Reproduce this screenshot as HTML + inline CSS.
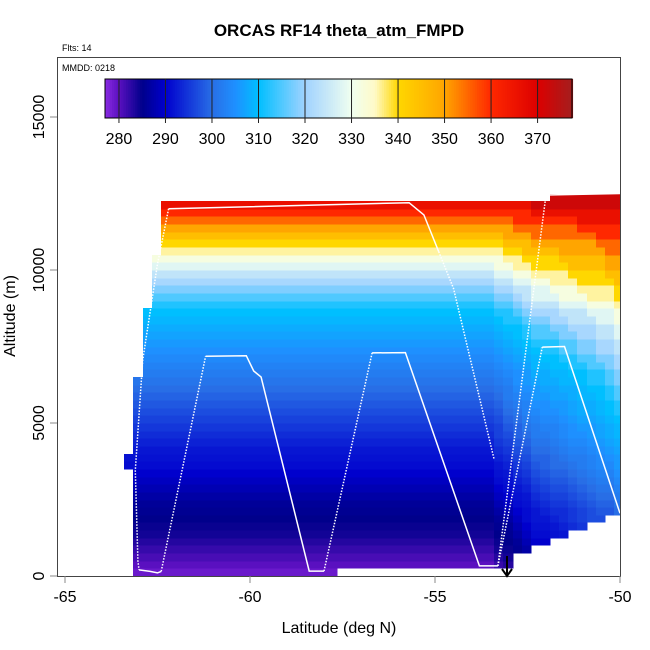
<!DOCTYPE html>
<html><head><meta charset="utf-8"><style>
body{margin:0;background:#fff}
svg{display:block;font-family:"Liberation Sans",sans-serif}
</style></head><body>
<svg id="chart" width="650" height="650" viewBox="0 0 650 650">
<defs><clipPath id="pc"><rect x="57" y="57" width="563.5" height="519.5"/></clipPath></defs>
<g id="cells" shape-rendering="crispEdges" clip-path="url(#pc)"></g>
<g id="tracks" fill="none" stroke="#fff" stroke-width="1.5"></g>
<rect x="57.5" y="57.5" width="563" height="519" fill="none" stroke="#444"/>
<g id="axes"></g>
<g id="cbar"></g>
<text x="339" y="36" text-anchor="middle" font-size="17" font-weight="bold">ORCAS RF14 theta_atm_FMPD</text>
<text x="62" y="51" font-size="9">Flts: 14</text>
<text x="62" y="71" font-size="9">MMDD: 0218</text>
<text x="339" y="633" text-anchor="middle" font-size="16">Latitude (deg N)</text>
<text transform="translate(15,316) rotate(-90)" text-anchor="middle" font-size="16">Altitude (m)</text>
<g stroke="#000" stroke-width="2" fill="none"><line x1="507" y1="556" x2="507" y2="576"/><polyline points="502,569 507,576 512,569"/></g>
</svg>
<script>
const xTicks=[-65,-60,-55,-50];
const yTicks=[0,5000,10000,15000];
const cbTicks=[280,290,300,310,320,330,340,350,360,370];
const cbRange=[277,377.4];
const colLat0=-63.4, colW=0.25, rowH=250;
const colBottom=[3500,0,0,0,0,0,0,0,0,0,0,0,0,0,0,0,0,0,0,0,0,0,0,250,250,250,250,250,250,250,250,250,250,250,250,250,250,250,250,250,250,250,750,750,1000,1000,1250,1250,1500,1500,1750,1750,2000,2000];
const colTop=[4000,6500,8750,10500,12250,12250,12250,12250,12250,12250,12250,12250,12250,12250,12250,12250,12250,12250,12250,12250,12250,12250,12250,12250,12250,12250,12250,12250,12250,12250,12250,12250,12250,12250,12250,12250,12250,12250,12250,12250,12250,12250,12250,12250,12250,12250,12500,12500,12500,12500,12500,12500,12500,12500];
const colFactor=[0,0,0,0,0,0,0,0,0,0,0,0,0,0,0,0,0,0,0,0,0,0,0,0,0,0,0,0,0,0,0,0,0,0,0,0,0,0,0,0,0.1,0.2,0.3,0.4,0.5,0.55,0.6,0.65,0.7,0.75,0.8,0.85,0.9,1];
const profile=[279,280,281,282,283,284,284.5,285,285.5,286,287,288,289,290,291,291.5,292,293,294,295,296,297,298,299,300,301,302,303,304,305,306,307,308,309,310,312,315,318,321,324,328,332,336,340,345,350,355,360,366,372,377];
const edgeShift=[17,17,17,17,17,17,17,17,16,16,16,16,16,16,16,15,15,15,15,14,14,14,13,13,12,12,11,11,10,10,9,9,8,8,7,7,7,6,6,5,5,4,4,3,3,2,2,1,1,0,0];
const trackSolid=[
 [[-63.0,200],[-62.7,150],[-62.5,100],[-62.4,150]],
 [[-61.2,7180],[-60.1,7200],[-59.9,6700],[-59.7,6500],[-58.4,160],[-58.0,160]],
 [[-56.7,7290],[-55.8,7300],[-53.8,330],[-53.3,330]],
 [[-52.0,12450],[-50,12500]],
 [[-52.1,7480],[-51.5,7500],[-50,2050]],
 [[-62.2,12000],[-55.7,12200],[-55.3,11800],[-54.9,10600]]];
const trackDotted=[
 [[-62.2,12000],[-62.5,10200],[-62.9,7050],[-63.1,3450],[-63.03,500],[-63.0,200]],
 [[-62.4,150],[-61.2,7180]],
 [[-58.0,160],[-56.7,7290]],
 [[-53.3,330],[-52.0,12450]],
 [[-53.3,330],[-52.1,7480]],
 [[-54.9,10600],[-54.5,9400],[-53.4,3800]]];
const NS='http://www.w3.org/2000/svg';
const X=l=>65+(l+65)*37, Y=a=>576-a*0.0306;
const stops=[[277,[138,43,226]],[280,[90,16,192]],[285,[0,0,139]],[290,[0,0,205]],[300,[40,110,230]],[305,[30,144,255]],[310,[0,191,255]],[320,[160,210,255]],[330,[240,255,240]],[335,[255,250,200]],[340,[255,215,0]],[350,[255,165,0]],[360,[255,40,0]],[370,[220,0,0]],[377.4,[165,30,30]]];
function col(t){if(t<=stops[0][0])return 'rgb('+stops[0][1]+')';for(let i=1;i<stops.length;i++){if(t<=stops[i][0]){const a=stops[i-1],b=stops[i],f=(t-a[0])/(b[0]-a[0]);return 'rgb('+a[1].map((v,j)=>Math.round(v+(b[1][j]-v)*f)).join(',')+')';}}return 'rgb('+stops[stops.length-1][1]+')';}
function mk(tag,attrs,parent){const e=document.createElementNS(NS,tag);for(const k in attrs)e.setAttribute(k,attrs[k]);parent.appendChild(e);return e;}
const cells=document.getElementById('cells');
colBottom.forEach((b,i)=>{const l0=colLat0+i*colW,x0=Math.round(X(l0)),x1=Math.round(X(l0+colW));
 for(let a=b;a<colTop[i];a+=rowH){const r0=Math.round(a/rowH);
  const k=Math.min(profile.length-1,r0+Math.round(colFactor[i]*edgeShift[Math.min(r0,edgeShift.length-1)]));
  const y0=Math.round(Y(a+rowH)),y1=Math.round(Y(a));
  const r=mk('rect',{x:x0,y:y0,width:x1-x0+0.5,height:y1-y0+0.5,fill:col(profile[k])},cells);
  
  }});
const tr=document.getElementById('tracks');
const pts=s=>s.map(p=>X(p[0]).toFixed(1)+','+Y(p[1]).toFixed(1)).join(' ');
trackSolid.forEach(s=>{const p=mk('polyline',{points:pts(s)},tr);
 
 });
trackDotted.forEach(s=>{const p=mk('polyline',{points:pts(s),'stroke-dasharray':'1.5,1.5'},tr);
 
 });
const ax=document.getElementById('axes');
xTicks.forEach(v=>{const x=X(v);mk('line',{x1:x,x2:x,y1:576,y2:583,stroke:'#888'},ax);
 const t=mk('text',{x:x,y:602,'text-anchor':'middle','font-size':16},ax);t.textContent=v;
 
 });
yTicks.forEach(v=>{const y=Y(v);mk('line',{x1:50,x2:57,y1:y,y2:y,stroke:'#888'},ax);
 const t=mk('text',{transform:'translate(44,'+y+') rotate(-90)','text-anchor':'middle','font-size':16},ax);t.textContent=v;
 
 });
const cb=document.getElementById('cbar');
const CX=t=>105+(t-cbRange[0])/(cbRange[1]-cbRange[0])*467;
for(let t=cbRange[0];t<cbRange[1];t+=0.5){const r=mk('rect',{x:CX(t),y:79,width:467/((cbRange[1]-cbRange[0])*2)+0.6,height:39,fill:col(t+0.25)},cb);
 
 }
mk('rect',{x:105,y:79,width:467,height:39,fill:'none',stroke:'#000'},cb);
cbTicks.forEach(v=>{const x=CX(v);mk('line',{x1:x,x2:x,y1:79,y2:123,stroke:'#222'},cb);
 const t=mk('text',{x:x,y:144,'text-anchor':'middle','font-size':16},cb);t.textContent=v;
 
 });
</script>
</body></html>
